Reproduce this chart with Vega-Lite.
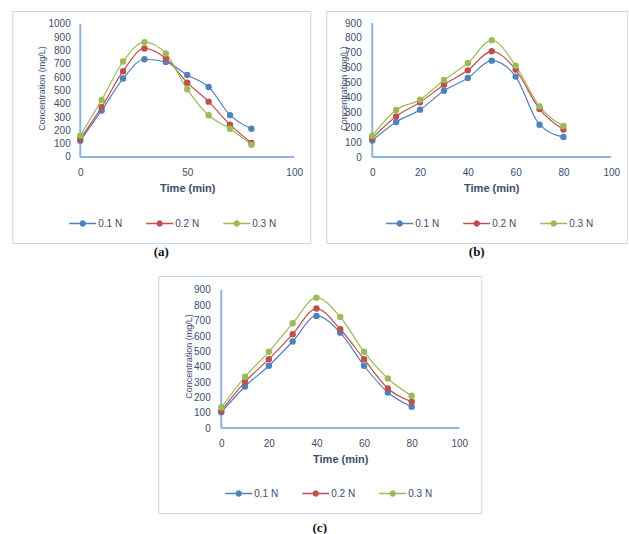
{
  "$schema": "https://vega.github.io/schema/vega-lite/v6.json",
  "background": "white",
  "padding": {"left": 11, "top": 10, "right": 0, "bottom": 0},
  "config": {
    "view": {"stroke": "#C5D6EE", "strokeWidth": 1},
    "axis": {
      "grid": false, "domain": false, "ticks": false, "format": "d",
      "labelFont": "Liberation Sans", "labelFontSize": 10, "labelColor": "#3D4C6E",
      "titleFont": "Liberation Sans", "titleFontSize": 11, "titleColor": "#3D4C6E", "titleFontWeight": "bold"
    },
    "legend": {"labelFont": "Liberation Sans", "labelFontSize": 10, "labelColor": "#3D4C6E", "padding": 0},
    "title": {"font": "Liberation Serif", "fontSize": 13, "fontWeight": "bold", "color": "#111111"}
  },
  "datasets": {
    "a": [
      {"time": 0, "conc": 123, "series": "0.1 N"}, {"time": 10, "conc": 350, "series": "0.1 N"},
      {"time": 20, "conc": 590, "series": "0.1 N"}, {"time": 30, "conc": 735, "series": "0.1 N"},
      {"time": 40, "conc": 715, "series": "0.1 N"}, {"time": 50, "conc": 616, "series": "0.1 N"},
      {"time": 60, "conc": 527, "series": "0.1 N"}, {"time": 70, "conc": 315, "series": "0.1 N"},
      {"time": 80, "conc": 212, "series": "0.1 N"},
      {"time": 0, "conc": 136, "series": "0.2 N"}, {"time": 10, "conc": 375, "series": "0.2 N"},
      {"time": 20, "conc": 645, "series": "0.2 N"}, {"time": 30, "conc": 816, "series": "0.2 N"},
      {"time": 40, "conc": 740, "series": "0.2 N"}, {"time": 50, "conc": 559, "series": "0.2 N"},
      {"time": 60, "conc": 416, "series": "0.2 N"}, {"time": 70, "conc": 243, "series": "0.2 N"},
      {"time": 80, "conc": 106, "series": "0.2 N"},
      {"time": 0, "conc": 161, "series": "0.3 N"}, {"time": 10, "conc": 428, "series": "0.3 N"},
      {"time": 20, "conc": 718, "series": "0.3 N"}, {"time": 30, "conc": 864, "series": "0.3 N"},
      {"time": 40, "conc": 778, "series": "0.3 N"}, {"time": 50, "conc": 509, "series": "0.3 N"},
      {"time": 60, "conc": 314, "series": "0.3 N"}, {"time": 70, "conc": 212, "series": "0.3 N"},
      {"time": 80, "conc": 93, "series": "0.3 N"}
    ],
    "b": [
      {"time": 0, "conc": 110, "series": "0.1 N"}, {"time": 10, "conc": 235, "series": "0.1 N"},
      {"time": 20, "conc": 318, "series": "0.1 N"}, {"time": 30, "conc": 445, "series": "0.1 N"},
      {"time": 40, "conc": 531, "series": "0.1 N"}, {"time": 50, "conc": 647, "series": "0.1 N"},
      {"time": 60, "conc": 540, "series": "0.1 N"}, {"time": 70, "conc": 217, "series": "0.1 N"},
      {"time": 80, "conc": 134, "series": "0.1 N"},
      {"time": 0, "conc": 125, "series": "0.2 N"}, {"time": 10, "conc": 273, "series": "0.2 N"},
      {"time": 20, "conc": 367, "series": "0.2 N"}, {"time": 30, "conc": 486, "series": "0.2 N"},
      {"time": 40, "conc": 582, "series": "0.2 N"}, {"time": 50, "conc": 710, "series": "0.2 N"},
      {"time": 60, "conc": 587, "series": "0.2 N"}, {"time": 70, "conc": 322, "series": "0.2 N"},
      {"time": 80, "conc": 184, "series": "0.2 N"},
      {"time": 0, "conc": 143, "series": "0.3 N"}, {"time": 10, "conc": 316, "series": "0.3 N"},
      {"time": 20, "conc": 385, "series": "0.3 N"}, {"time": 30, "conc": 517, "series": "0.3 N"},
      {"time": 40, "conc": 631, "series": "0.3 N"}, {"time": 50, "conc": 784, "series": "0.3 N"},
      {"time": 60, "conc": 613, "series": "0.3 N"}, {"time": 70, "conc": 340, "series": "0.3 N"},
      {"time": 80, "conc": 208, "series": "0.3 N"}
    ],
    "c": [
      {"time": 0, "conc": 102, "series": "0.1 N"}, {"time": 10, "conc": 271, "series": "0.1 N"},
      {"time": 20, "conc": 406, "series": "0.1 N"}, {"time": 30, "conc": 564, "series": "0.1 N"},
      {"time": 40, "conc": 731, "series": "0.1 N"}, {"time": 50, "conc": 622, "series": "0.1 N"},
      {"time": 60, "conc": 406, "series": "0.1 N"}, {"time": 70, "conc": 232, "series": "0.1 N"},
      {"time": 80, "conc": 139, "series": "0.1 N"},
      {"time": 0, "conc": 113, "series": "0.2 N"}, {"time": 10, "conc": 301, "series": "0.2 N"},
      {"time": 20, "conc": 449, "series": "0.2 N"}, {"time": 30, "conc": 612, "series": "0.2 N"},
      {"time": 40, "conc": 779, "series": "0.2 N"}, {"time": 50, "conc": 644, "series": "0.2 N"},
      {"time": 60, "conc": 449, "series": "0.2 N"}, {"time": 70, "conc": 258, "series": "0.2 N"},
      {"time": 80, "conc": 171, "series": "0.2 N"},
      {"time": 0, "conc": 134, "series": "0.3 N"}, {"time": 10, "conc": 334, "series": "0.3 N"},
      {"time": 20, "conc": 497, "series": "0.3 N"}, {"time": 30, "conc": 683, "series": "0.3 N"},
      {"time": 40, "conc": 850, "series": "0.3 N"}, {"time": 50, "conc": 724, "series": "0.3 N"},
      {"time": 60, "conc": 497, "series": "0.3 N"}, {"time": 70, "conc": 323, "series": "0.3 N"},
      {"time": 80, "conc": 210, "series": "0.3 N"}
    ],
    "axes_a": [{"x": 0, "x2": 100, "y": 0, "y2": 0}, {"x": 0, "x2": 0, "y": 0, "y2": 1000}],
    "axes_bc": [{"x": 0, "x2": 100, "y": 0, "y2": 0}, {"x": 0, "x2": 0, "y": 0, "y2": 900}]
  },
  "spacing": 15,
  "center": true,
  "resolve": {"scale": {"fill": "independent", "stroke": "independent"}},
  "vconcat": [
    {
      "spacing": 14,
      "resolve": {"scale": {"fill": "independent", "stroke": "independent"}},
      "hconcat": [
        {
          "width": 298, "height": 232,
          "data": {"name": "a"},
          "title": {"text": "(a)", "orient": "bottom", "anchor": "middle", "frame": "group", "offset": 3},
          "layer": [
            {
              "data": {"name": "axes_a"},
              "mark": {"type": "rule", "color": "#8DB3E2", "strokeWidth": 2},
              "encoding": {
                "x": {"field": "x", "type": "quantitative", "scale": {"domain": [-31.8, 107.5], "nice": false, "zero": false},
                  "axis": {"values": [0, 50, 100], "offset": -86, "labelPadding": 10, "title": "Time (min)", "titlePadding": 5, "titleX": 175}},
                "x2": {"field": "x2"},
                "y": {"field": "y", "type": "quantitative", "scale": {"domain": [-646.6, 1097.7], "nice": false, "zero": false},
                  "axis": {"values": [0, 100, 200, 300, 400, 500, 600, 700, 800, 900, 1000], "offset": -68, "labelPadding": 10,
                    "title": "Concentration (mg/L)", "titleX": -39, "titleY": 77, "titleBaseline": "middle", "titleFontWeight": "normal", "titleFontSize": 9}},
                "y2": {"field": "y2"}
              }
            },
            {
              "mark": {"type": "line", "strokeWidth": 1.2, "interpolate": "monotone"},
              "encoding": {
                "x": {"field": "time", "type": "quantitative", "scale": {"domain": [-31.8, 107.5], "nice": false, "zero": false},
                  "axis": {"values": [0, 50, 100], "offset": -86, "labelPadding": 10, "title": "Time (min)", "titlePadding": 5, "titleX": 175}},
                "y": {"field": "conc", "type": "quantitative", "scale": {"domain": [-646.6, 1097.7], "nice": false, "zero": false},
                  "axis": {"values": [0, 100, 200, 300, 400, 500, 600, 700, 800, 900, 1000], "offset": -68, "labelPadding": 10,
                    "title": "Concentration (mg/L)", "titleX": -39, "titleY": 77, "titleBaseline": "middle", "titleFontWeight": "normal", "titleFontSize": 9}},
                "stroke": {"field": "series", "type": "nominal", "scale": {"domain": ["0.1 N", "0.2 N", "0.3 N"], "range": ["#4F81BD", "#C0504D", "#9BBB59"]},
                  "legend": {"title": null, "orient": "none", "direction": "horizontal", "legendX": 63, "legendY": 205, "symbolType": "M-2,0L2,0M0.36,0A0.36,0.36,0,1,1,-0.36,0A0.36,0.36,0,1,1,0.36,0Z", "symbolSize": 182, "labelOffset": 8, "columnPadding": 21}}
              }
            },
            {
              "mark": {"type": "point", "filled": true, "size": 24, "strokeWidth": 1.5, "opacity": 1},
              "encoding": {
                "x": {"field": "time", "type": "quantitative", "scale": {"domain": [-31.8, 107.5], "nice": false, "zero": false},
                  "axis": {"values": [0, 50, 100], "offset": -86, "labelPadding": 10, "title": "Time (min)", "titlePadding": 5, "titleX": 175}},
                "y": {"field": "conc", "type": "quantitative", "scale": {"domain": [-646.6, 1097.7], "nice": false, "zero": false},
                  "axis": {"values": [0, 100, 200, 300, 400, 500, 600, 700, 800, 900, 1000], "offset": -68, "labelPadding": 10,
                    "title": "Concentration (mg/L)", "titleX": -39, "titleY": 77, "titleBaseline": "middle", "titleFontWeight": "normal", "titleFontSize": 9}},
                "fill": {"field": "series", "type": "nominal", "scale": {"domain": ["0.1 N", "0.2 N", "0.3 N"], "range": ["#4F81BD", "#C0504D", "#9BBB59"]},
                  "legend": {"title": null, "orient": "none", "direction": "horizontal", "legendX": 63, "legendY": 205, "symbolType": "M-2,0L2,0M0.36,0A0.36,0.36,0,1,1,-0.36,0A0.36,0.36,0,1,1,0.36,0Z", "symbolSize": 182, "labelOffset": 8, "columnPadding": 21}},
                "stroke": {"field": "series", "type": "nominal", "scale": {"domain": ["0.1 N", "0.2 N", "0.3 N"], "range": ["#4F81BD", "#C0504D", "#9BBB59"]},
                  "legend": {"title": null, "orient": "none", "direction": "horizontal", "legendX": 63, "legendY": 205, "symbolType": "M-2,0L2,0M0.36,0A0.36,0.36,0,1,1,-0.36,0A0.36,0.36,0,1,1,0.36,0Z", "symbolSize": 182, "labelOffset": 8, "columnPadding": 21}}
              }
            }
          ]
        },
        {
          "width": 301, "height": 232,
          "data": {"name": "b"},
          "title": {"text": "(b)", "orient": "bottom", "anchor": "middle", "frame": "group", "offset": 3},
          "layer": [
            {
              "data": {"name": "axes_bc"},
              "mark": {"type": "rule", "color": "#8DB3E2", "strokeWidth": 2},
              "encoding": {
                "x": {"field": "x", "type": "quantitative", "scale": {"domain": [-19.25, 106.7], "nice": false, "zero": false},
                  "axis": {"values": [0, 20, 40, 60, 80, 100], "offset": -86, "labelPadding": 10, "title": "Time (min)", "titlePadding": 5, "titleX": 165}},
                "x2": {"field": "x2"},
                "y": {"field": "y", "type": "quantitative", "scale": {"domain": [-577.6, 980.6], "nice": false, "zero": false},
                  "axis": {"values": [0, 100, 200, 300, 400, 500, 600, 700, 800, 900], "offset": -46, "labelPadding": 11,
                    "title": "Concentration (mg/L)", "titleX": -29, "titleY": 77, "titleBaseline": "middle", "titleFontWeight": "normal", "titleFontSize": 9}},
                "y2": {"field": "y2"}
              }
            },
            {
              "mark": {"type": "line", "strokeWidth": 1.2, "interpolate": "monotone"},
              "encoding": {
                "x": {"field": "time", "type": "quantitative", "scale": {"domain": [-19.25, 106.7], "nice": false, "zero": false},
                  "axis": {"values": [0, 20, 40, 60, 80, 100], "offset": -86, "labelPadding": 10, "title": "Time (min)", "titlePadding": 5, "titleX": 165}},
                "y": {"field": "conc", "type": "quantitative", "scale": {"domain": [-577.6, 980.6], "nice": false, "zero": false},
                  "axis": {"values": [0, 100, 200, 300, 400, 500, 600, 700, 800, 900], "offset": -46, "labelPadding": 11,
                    "title": "Concentration (mg/L)", "titleX": -29, "titleY": 77, "titleBaseline": "middle", "titleFontWeight": "normal", "titleFontSize": 9}},
                "stroke": {"field": "series", "type": "nominal", "scale": {"domain": ["0.1 N", "0.2 N", "0.3 N"], "range": ["#4F81BD", "#C0504D", "#9BBB59"]},
                  "legend": {"title": null, "orient": "none", "direction": "horizontal", "legendX": 66, "legendY": 205, "symbolType": "M-2,0L2,0M0.36,0A0.36,0.36,0,1,1,-0.36,0A0.36,0.36,0,1,1,0.36,0Z", "symbolSize": 182, "labelOffset": 8, "columnPadding": 21}}
              }
            },
            {
              "mark": {"type": "point", "filled": true, "size": 24, "strokeWidth": 1.5, "opacity": 1},
              "encoding": {
                "x": {"field": "time", "type": "quantitative", "scale": {"domain": [-19.25, 106.7], "nice": false, "zero": false},
                  "axis": {"values": [0, 20, 40, 60, 80, 100], "offset": -86, "labelPadding": 10, "title": "Time (min)", "titlePadding": 5, "titleX": 165}},
                "y": {"field": "conc", "type": "quantitative", "scale": {"domain": [-577.6, 980.6], "nice": false, "zero": false},
                  "axis": {"values": [0, 100, 200, 300, 400, 500, 600, 700, 800, 900], "offset": -46, "labelPadding": 11,
                    "title": "Concentration (mg/L)", "titleX": -29, "titleY": 77, "titleBaseline": "middle", "titleFontWeight": "normal", "titleFontSize": 9}},
                "fill": {"field": "series", "type": "nominal", "scale": {"domain": ["0.1 N", "0.2 N", "0.3 N"], "range": ["#4F81BD", "#C0504D", "#9BBB59"]},
                  "legend": {"title": null, "orient": "none", "direction": "horizontal", "legendX": 66, "legendY": 205, "symbolType": "M-2,0L2,0M0.36,0A0.36,0.36,0,1,1,-0.36,0A0.36,0.36,0,1,1,0.36,0Z", "symbolSize": 182, "labelOffset": 8, "columnPadding": 21}},
                "stroke": {"field": "series", "type": "nominal", "scale": {"domain": ["0.1 N", "0.2 N", "0.3 N"], "range": ["#4F81BD", "#C0504D", "#9BBB59"]},
                  "legend": {"title": null, "orient": "none", "direction": "horizontal", "legendX": 66, "legendY": 205, "symbolType": "M-2,0L2,0M0.36,0A0.36,0.36,0,1,1,-0.36,0A0.36,0.36,0,1,1,0.36,0Z", "symbolSize": 182, "labelOffset": 8, "columnPadding": 21}}
              }
            }
          ]
        }
      ]
    },
    {
      "width": 323, "height": 237,
      "data": {"name": "c"},
      "title": {"text": "(c)", "orient": "bottom", "anchor": "middle", "frame": "group", "offset": 9},
      "layer": [
        {
          "data": {"name": "axes_bc"},
          "mark": {"type": "rule", "color": "#8DB3E2", "strokeWidth": 2},
          "encoding": {
            "x": {"field": "x", "type": "quantitative", "scale": {"domain": [-26.47, 109.24], "nice": false, "zero": false},
              "axis": {"values": [0, 20, 40, 60, 80, 100], "offset": -85, "labelPadding": 10, "title": "Time (min)", "titlePadding": 5, "titleX": 182}},
            "x2": {"field": "x2"},
            "y": {"field": "y", "type": "quantitative", "scale": {"domain": [-554.3, 991.3], "nice": false, "zero": false},
              "axis": {"values": [0, 100, 200, 300, 400, 500, 600, 700, 800, 900], "offset": -63, "labelPadding": 11,
                "title": "Concentration (mg/L)", "titleX": -33, "titleY": 80, "titleBaseline": "middle", "titleFontWeight": "normal", "titleFontSize": 9}},
            "y2": {"field": "y2"}
          }
        },
        {
          "mark": {"type": "line", "strokeWidth": 1.2, "interpolate": "monotone"},
          "encoding": {
            "x": {"field": "time", "type": "quantitative", "scale": {"domain": [-26.47, 109.24], "nice": false, "zero": false},
              "axis": {"values": [0, 20, 40, 60, 80, 100], "offset": -85, "labelPadding": 10, "title": "Time (min)", "titlePadding": 5, "titleX": 182}},
            "y": {"field": "conc", "type": "quantitative", "scale": {"domain": [-554.3, 991.3], "nice": false, "zero": false},
              "axis": {"values": [0, 100, 200, 300, 400, 500, 600, 700, 800, 900], "offset": -63, "labelPadding": 11,
                "title": "Concentration (mg/L)", "titleX": -33, "titleY": 80, "titleBaseline": "middle", "titleFontWeight": "normal", "titleFontSize": 9}},
            "stroke": {"field": "series", "type": "nominal", "scale": {"domain": ["0.1 N", "0.2 N", "0.3 N"], "range": ["#4F81BD", "#C0504D", "#9BBB59"]},
              "legend": {"title": null, "orient": "none", "direction": "horizontal", "legendX": 73, "legendY": 210, "symbolType": "M-2,0L2,0M0.36,0A0.36,0.36,0,1,1,-0.36,0A0.36,0.36,0,1,1,0.36,0Z", "symbolSize": 182, "labelOffset": 8, "columnPadding": 21}}
          }
        },
        {
          "mark": {"type": "point", "filled": true, "size": 24, "strokeWidth": 1.5, "opacity": 1},
          "encoding": {
            "x": {"field": "time", "type": "quantitative", "scale": {"domain": [-26.47, 109.24], "nice": false, "zero": false},
              "axis": {"values": [0, 20, 40, 60, 80, 100], "offset": -85, "labelPadding": 10, "title": "Time (min)", "titlePadding": 5, "titleX": 182}},
            "y": {"field": "conc", "type": "quantitative", "scale": {"domain": [-554.3, 991.3], "nice": false, "zero": false},
              "axis": {"values": [0, 100, 200, 300, 400, 500, 600, 700, 800, 900], "offset": -63, "labelPadding": 11,
                "title": "Concentration (mg/L)", "titleX": -33, "titleY": 80, "titleBaseline": "middle", "titleFontWeight": "normal", "titleFontSize": 9}},
            "fill": {"field": "series", "type": "nominal", "scale": {"domain": ["0.1 N", "0.2 N", "0.3 N"], "range": ["#4F81BD", "#C0504D", "#9BBB59"]},
              "legend": {"title": null, "orient": "none", "direction": "horizontal", "legendX": 73, "legendY": 210, "symbolType": "M-2,0L2,0M0.36,0A0.36,0.36,0,1,1,-0.36,0A0.36,0.36,0,1,1,0.36,0Z", "symbolSize": 182, "labelOffset": 8, "columnPadding": 21}},
            "stroke": {"field": "series", "type": "nominal", "scale": {"domain": ["0.1 N", "0.2 N", "0.3 N"], "range": ["#4F81BD", "#C0504D", "#9BBB59"]},
              "legend": {"title": null, "orient": "none", "direction": "horizontal", "legendX": 73, "legendY": 210, "symbolType": "M-2,0L2,0M0.36,0A0.36,0.36,0,1,1,-0.36,0A0.36,0.36,0,1,1,0.36,0Z", "symbolSize": 182, "labelOffset": 8, "columnPadding": 21}}
          }
        }
      ]
    }
  ]
}
